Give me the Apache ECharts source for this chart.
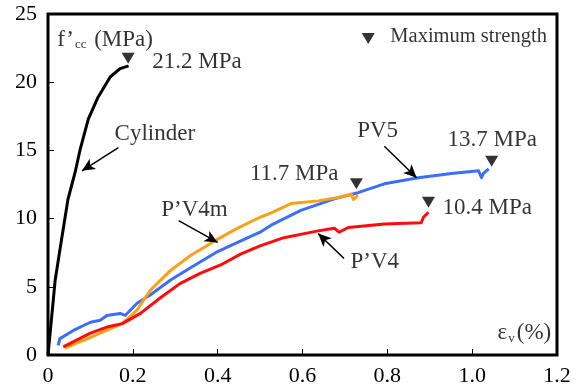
<!DOCTYPE html>
<html>
<head>
<meta charset="utf-8">
<script src="https://cdn.jsdelivr.net/npm/echarts@6/dist/echarts.min.js"></script>
<style>
  html, body { margin: 0; padding: 0; background: #fff; }
  #chart { width: 581px; height: 387px; }
</style>
</head>
<body>
<div id="chart"></div>
<script>
// strain (%) and stress (MPa)
const cylStrain = [0, 0.005, 0.017, 0.028, 0.047, 0.064, 0.076, 0.095, 0.118, 0.147, 0.17, 0.19];
const cylStress = [0, 1.6, 5.5, 7.7, 11.4, 13.4, 15.1, 17.3, 18.9, 20.4, 21.0, 21.2];

const pv5Strain = [0.024, 0.028, 0.06, 0.10, 0.123, 0.139, 0.17, 0.182, 0.21, 0.241, 0.289, 0.336, 0.395, 0.447, 0.50, 0.525, 0.596, 0.675, 0.731, 0.793, 0.873, 0.951, 1.015, 1.022, 1.026, 1.039];
const pv5Stress = [0.7, 1.2, 1.8, 2.4, 2.55, 2.9, 3.05, 2.9, 3.8, 4.4, 5.5, 6.4, 7.5, 8.25, 9.0, 9.5, 10.6, 11.45, 11.9, 12.55, 13.0, 13.3, 13.5, 13.0, 13.3, 13.65];

const pv4mStrain = [0.04, 0.10, 0.175, 0.21, 0.241, 0.289, 0.336, 0.395, 0.447, 0.50, 0.525, 0.573, 0.637, 0.684, 0.715, 0.72, 0.731];
const pv4mStress = [0.5, 1.3, 2.3, 3.3, 4.74, 6.2, 7.3, 8.4, 9.3, 10.1, 10.4, 11.1, 11.3, 11.55, 11.8, 11.4, 11.7];

const pv4Strain = [0.036, 0.10, 0.139, 0.175, 0.218, 0.265, 0.312, 0.36, 0.407, 0.454, 0.50, 0.556, 0.637, 0.675, 0.686, 0.708, 0.793, 0.88, 0.885, 0.897];
const pv4Stress = [0.6, 1.6, 2.05, 2.3, 3.05, 4.2, 5.25, 6.0, 6.6, 7.4, 8.0, 8.6, 9.1, 9.3, 9.0, 9.35, 9.6, 9.7, 10.1, 10.45];

// maximum strength markers (placed just above each peak)
const peakStrain = [0.189, 0.727, 1.046, 0.897, 0.755];
const peakStress = [21.75, 12.55, 14.2, 11.2, 23.2];

// annotation texts
const labelText = ['21.2 MPa', 'Cylinder', 'PV5', '13.7 MPa', '11.7 MPa', 'P\u2019V4m', '10.4 MPa', 'P\u2019V4'];
const labelStrain = [0.246, 0.157, 0.729, 0.942, 0.476, 0.267, 0.93, 0.713];
const labelStress = [21.5, 16.2, 16.4, 15.8, 13.3, 10.6, 10.8, 6.8];

// leader arrows: start -> head
const arrowFrom = [[0.166, 15.2], [0.308, 9.85], [0.793, 15.3], [0.698, 7.08]];
const arrowTo = [[0.080, 13.5], [0.40, 8.25], [0.869, 13.0], [0.637, 8.9]];

const xTicks = [0, 0.2, 0.4, 0.6, 0.8, 1.0, 1.2];

const zip = (a, b) => a.map((v, i) => [v, b[i]]);
const FONT = "'Liberation Serif', 'Times New Roman', serif";

const chart = echarts.init(document.getElementById('chart'));

const lineSeries = (name, xs, ys, color, width) => ({
  name: name,
  type: 'line',
  data: zip(xs, ys),
  showSymbol: false,
  lineStyle: { color: color, width: width, join: 'round' },
  z: 3
});

const option = {
  animation: false,
  backgroundColor: '#fff',
  textStyle: { fontFamily: FONT, color: '#000' },
  grid: {
    left: 48, right: 24, top: 14, bottom: 32,
    show: true, borderColor: '#000', borderWidth: 3
  },
  xAxis: {
    type: 'value',
    min: 0, max: 1.2, interval: 0.2,
    axisLine: { show: false },
    axisTick: { show: true, inside: true, length: 6, lineStyle: { color: '#000', width: 1 } },
    splitLine: { show: false },
    axisLabel: {
      margin: 10, fontSize: 22, fontFamily: FONT, color: '#000',
      formatter: v => {
        const t = xTicks.find(k => Math.abs(k - v) < 1e-6);
        if (t === 0) return '0';
        return t.toFixed(1);
      }
    }
  },
  yAxis: {
    type: 'value',
    min: 0, max: 25, interval: 5,
    axisLine: { show: false },
    axisTick: { show: true, inside: true, length: 6, lineStyle: { color: '#000', width: 1 } },
    splitLine: { show: false },
    axisLabel: { margin: 11, fontSize: 22, fontFamily: FONT, color: '#000' }
  },
  series: [
    lineSeries('Cylinder', cylStrain, cylStress, '#000000', 3),
    lineSeries('PV5', pv5Strain, pv5Stress, '#3d6ff5', 3),
    lineSeries('P\u2019V4m', pv4mStrain, pv4mStress, '#fba118', 3),
    lineSeries('P\u2019V4', pv4Strain, pv4Stress, '#ff0b0b', 3),
    {
      name: 'peaks',
      type: 'scatter',
      data: zip(peakStrain, peakStress),
      symbol: 'triangle',
      symbolRotate: 180,
      symbolSize: [13, 11],
      itemStyle: { color: '#000' },
      z: 5
    },
    {
      name: 'texts',
      type: 'scatter',
      data: labelText.map((t, i) => ({ value: [labelStrain[i], labelStress[i]], name: t })),
      symbolSize: 0,
      label: {
        show: true, position: 'right', distance: 0,
        formatter: p => p.name,
        fontSize: 23, fontFamily: FONT, color: '#000'
      },
      z: 6
    },
    {
      name: 'extra',
      type: 'scatter',
      symbolSize: 0,
      data: [
        { value: [0.807, 23.36], label: { formatter: 'Maximum strength', fontSize: 20.5 } },
        { value: [0.022, 23.1], label: { formatter: 'f\u2019{s|cc} (MPa)' } },
        { value: [1.06, 1.6], label: { formatter: '\u03b5{s|v}(%)' } }
      ],
      label: {
        show: true, position: 'right', distance: 0,
        fontSize: 23, fontFamily: FONT, color: '#000',
        rich: {
          s: { fontSize: 13, fontFamily: FONT, color: '#000', verticalAlign: 'bottom', padding: [10, 2, 0, 1] }
        }
      },
      z: 6
    },
    {
      name: 'arrows',
      type: 'line',
      data: [],
      markLine: {
        silent: true,
        symbol: ['none', 'arrow'],
        symbolSize: [9, 13],
        label: { show: false },
        lineStyle: { color: '#000', width: 1.5, type: 'solid' },
        data: arrowFrom.map((a, i) => [{ coord: a }, { coord: arrowTo[i] }])
      },
      z: 6
    }
  ]
};

chart.setOption(option);
</script>
</body>
</html>
